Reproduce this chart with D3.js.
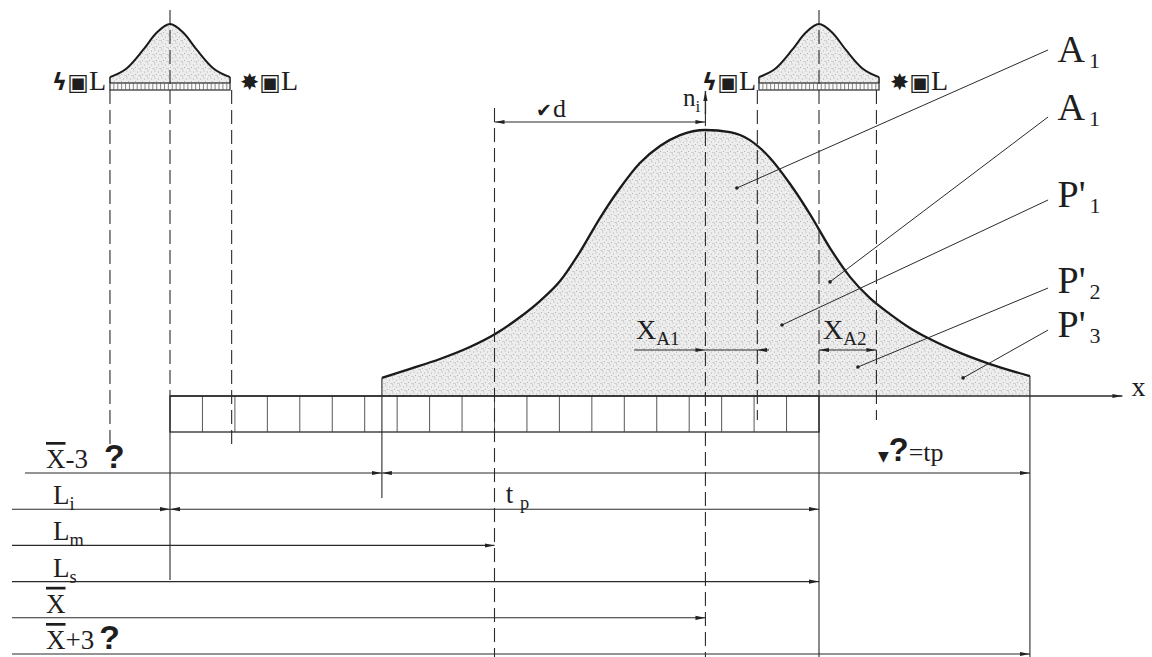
<!DOCTYPE html>
<html>
<head>
<meta charset="utf-8">
<script src="https://cdn.jsdelivr.net/npm/d3@7"></script>
<style>
body { margin: 0; background: #fff; }
svg { display: block; }
</style>
</head>
<body>
<div id="chart"></div>
<script>
// Diagram units along x : one grid cell = 1 unit, Li = 0, Ls = 20

// main frequency curve n_i (relative height, 1 = peak)
var curveX = [6.53, 7.4, 8.32, 9.24, 10.02, 10.79, 11.4, 12.02, 12.63, 13.25, 13.87, 14.48, 15.1, 15.72, 16.5,
              17.26, 17.87, 18.49, 19.11, 19.72, 20.34, 20.96, 21.57, 22.19, 22.8, 23.42, 24.35, 25.27, 26.5];
var curveN = [0.068, 0.102, 0.139, 0.184, 0.233, 0.297, 0.357, 0.432, 0.541, 0.669, 0.782, 0.876, 0.94, 0.981, 1.0,
              0.992, 0.962, 0.895, 0.797, 0.684, 0.556, 0.447, 0.368, 0.308, 0.256, 0.214, 0.162, 0.12, 0.075];

// small gauge curves drawn at Li and Ls
var smallCenters = [0, 20];
var smallDx = [-1.85, -1.33, -0.83, -0.4, 0, 0.4, 0.83, 1.33, 1.85];
var smallN = [0.1, 0.25, 0.56, 0.86, 1, 0.86, 0.56, 0.25, 0.1];

// key abscissae
var xMinus3s = 6.53, xLm = 10, xBar = 16.5, xA1 = 18.1, xLs = 20, xA2 = 21.77, xPlus3s = 26.5, xLi = 0;
var gridCells = 20;

// bottom dimension rows
var rowEnds = [xPlus3s, xLs, xLm, xLs, xBar, xPlus3s];
var rowSplits = [xMinus3s, xLi, null, null, null, null];
var rowLabels = [
  [{t: "X", over: true}, {t: "-3"}, {t: "?", q: true, dx: 16}],
  [{t: "L"}, {t: "i", sub: true}],
  [{t: "L"}, {t: "m", sub: true}],
  [{t: "L"}, {t: "s", sub: true}],
  [{t: "X", over: true}],
  [{t: "X", over: true}, {t: "+3"}, {t: "?", q: true, dx: 5}]
];

// call-outs on the right
var calloutMain = ["A", "A", "P'", "P'", "P'"];
var calloutSub = ["1", "1", "1", "2", "3"];
var calloutDotX = [17.47, 20.34, 18.86, 21.2, 24.44];
var calloutDotN = [0.782, 0.429, 0.267, 0.109, 0.068];
var calloutEndN = [1.301, 1.049, 0.737, 0.406, 0.248];
var calloutTextN = [1.256, 1.038, 0.711, 0.387, 0.222];

var W = 1152, H = 657;
var ink = "#2a2a2a";
var serif = "'Liberation Serif', 'DejaVu Serif', 'Times New Roman', serif";
var sans = "'Liberation Sans', Arial, sans-serif";

var svg = d3.select("#chart").append("svg")
  .attr("width", W)
  .attr("height", H);

var x = d3.scaleLinear().domain([0, gridCells]).range([170, 819]);
var y = d3.scaleLinear().domain([0, 1]).range([396, 130]);
var ys = d3.scaleLinear().domain([0, 1]).range([83, 24]);
var rowY = d3.scalePoint().domain(d3.range(rowEnds.length)).range([473, 654]);

var defs = svg.append("defs");

// stipple fill
var pat = defs.append("pattern")
  .attr("id", "stip")
  .attr("width", 7).attr("height", 7)
  .attr("patternUnits", "userSpaceOnUse");
pat.append("rect").attr("width", 7).attr("height", 7).attr("fill", "#ededed");
[[1, 1], [4.5, 2], [2.5, 4.5], [6, 5.5], [0.5, 6]].forEach(function(p) {
  pat.append("circle").attr("cx", p[0]).attr("cy", p[1]).attr("r", 0.55).attr("fill", "#a8a8a8");
});

defs.append("marker")
  .attr("id", "arr")
  .attr("viewBox", "0 0 10 6")
  .attr("refX", 10).attr("refY", 3)
  .attr("markerWidth", 10).attr("markerHeight", 6)
  .attr("markerUnits", "userSpaceOnUse")
  .attr("orient", "auto-start-reverse")
  .append("path")
  .attr("d", "M0,0.9L10,3L0,5.1z")
  .attr("fill", "#222");

function seg(x1, y1, x2, y2, opts) {
  opts = opts || {};
  var l = svg.append("line")
    .attr("x1", x1).attr("y1", y1).attr("x2", x2).attr("y2", y2)
    .attr("stroke", opts.color || ink)
    .attr("stroke-width", opts.w || 1.1);
  if (opts.dash) l.attr("stroke-dasharray", "14,6");
  if (opts.end) l.attr("marker-end", "url(#arr)");
  if (opts.start) l.attr("marker-start", "url(#arr)");
  return l;
}

function rich(px, py, parts, size) {
  var t = svg.append("text")
    .attr("x", px).attr("y", py)
    .style("font-family", serif)
    .style("font-size", size + "px")
    .attr("fill", "#1e1e1e");
  var down = 0;
  parts.forEach(function(p) {
    var s = t.append("tspan").text(p.t);
    var dy = 0;
    if (p.sub) { dy = size * 0.22 - down; down = size * 0.22; s.style("font-size", (size * 0.68) + "px"); }
    else if (down) { dy = -down; down = 0; }
    if (dy) s.attr("dy", dy);
    if (p.dx) s.attr("dx", p.dx);
    if (p.over) s.style("text-decoration", "overline");
    if (p.q) s.style("font-family", sans).style("font-weight", "bold").style("font-size", (size * 1.25) + "px");
    if (p.sym) s.style("font-family", "'DejaVu Sans', sans-serif").style("font-weight", "bold").style("font-size", p.sym + "px");
  });
  return t;
}

// ---- main curve ----
var pts = curveX.map(function(d, i) { return [d, curveN[i]]; });
var area = d3.area()
  .x(function(d) { return x(d[0]); })
  .y0(y(0))
  .y1(function(d) { return y(d[1]); })
  .curve(d3.curveMonotoneX);
svg.append("path").datum(pts).attr("d", area).attr("fill", "url(#stip)");

var line = d3.line()
  .x(function(d) { return x(d[0]); })
  .y(function(d) { return y(d[1]); })
  .curve(d3.curveMonotoneX);
svg.append("path").datum(pts).attr("d", line)
  .attr("fill", "none").attr("stroke", "#1a1a1a").attr("stroke-width", 2.3);

// ---- small curves at Li and Ls ----
smallCenters.forEach(function(c) {
  var sp = smallDx.map(function(d, i) { return [c + d, smallN[i]]; });
  var a = d3.area()
    .x(function(d) { return x(d[0]); })
    .y0(ys(0))
    .y1(function(d) { return ys(d[1]); })
    .curve(d3.curveMonotoneX);
  svg.append("path").datum(sp).attr("d", a).attr("fill", "url(#stip)");
  svg.append("path").datum(sp)
    .attr("d", d3.line().x(function(d) { return x(d[0]); }).y(function(d) { return ys(d[1]); }).curve(d3.curveMonotoneX))
    .attr("fill", "none").attr("stroke", "#1a1a1a").attr("stroke-width", 2);
  seg(x(c - 1.85), ys(smallN[0]), x(c - 1.85), ys(0), {w: 1.6});
  seg(x(c + 1.85), ys(smallN[0]), x(c + 1.85), ys(0), {w: 1.6});
  // hatched strip
  svg.append("rect")
    .attr("x", x(c - 1.85)).attr("y", ys(0))
    .attr("width", x(c + 1.85) - x(c - 1.85)).attr("height", 7)
    .attr("fill", "#fafafa").attr("stroke", ink).attr("stroke-width", 1.2);
  d3.range(c - 1.85 + 0.12, c + 1.85, 0.12).forEach(function(t) {
    seg(x(t), ys(0), x(t), ys(0) + 7, {w: 0.7, color: "#555"});
  });
});

// ---- grid strip under the axis ----
svg.append("rect")
  .attr("x", x(0)).attr("y", y(0))
  .attr("width", x(gridCells) - x(0)).attr("height", 36)
  .attr("fill", "none").attr("stroke", ink).attr("stroke-width", 1.3);
d3.range(1, gridCells).forEach(function(i) {
  seg(x(i), y(0), x(i), y(0) + 36, {w: 0.9, color: "#444"});
});

// ---- x axis ----
seg(x(0), y(0), x(29.35), y(0), {w: 1.4, end: true});
rich(x(29.35) + 9, y(0), [{t: "x"}], 28);

// ---- vertical reference lines ----
seg(x(-1.85), 90, x(-1.85), 452, {dash: true});
seg(x(0), 10, x(0), y(0), {dash: true});
seg(x(1.9), 90, x(1.9), 446, {dash: true});
seg(x(0), y(0), x(0), 580);
seg(x(xMinus3s), y(curveN[0]), x(xMinus3s), 498);
seg(x(xLm), 108, x(xLm), H, {dash: true});
seg(x(xBar), 112, x(xBar), H, {dash: true});
seg(x(xBar), 114, x(xBar), 91, {end: true, w: 1.4});
seg(x(xA1), 90, x(xA1), 420, {dash: true});
seg(x(xLs), 10, x(xLs), y(0), {dash: true});
seg(x(xLs), y(0), x(xLs), H);
seg(x(xA2), 90, x(xA2), 420, {dash: true});
seg(x(xPlus3s), y(curveN[curveN.length - 1]), x(xPlus3s), H);

// ---- d dimension ----
seg(x(xLm), 122, x(xBar), 122, {start: true, end: true});
rich(536, 117, [{t: "\u2714", sym: 19}, {t: "d", dx: 1}], 26);
rich(683, 106, [{t: "n"}, {t: "i", sub: true}], 25);

// ---- X_A1, X_A2 ----
seg(x(14.3), 350, x(xBar), 350, {end: true});
seg(x(xBar), 350, x(xA1), 350);
seg(x(18.46), 350, x(xA1), 350, {end: true});
rich(636, 339, [{t: "X"}, {t: "A1", sub: true}], 28);
seg(x(xLs), 350, x(xA2), 350, {start: true, end: true});
rich(823, 339, [{t: "X"}, {t: "A2", sub: true}], 28);

// ---- call-outs ----
calloutMain.forEach(function(m, i) {
  seg(x(calloutDotX[i]), y(calloutDotN[i]), x(27.06), y(calloutEndN[i]), {w: 1});
  svg.append("circle").attr("cx", x(calloutDotX[i])).attr("cy", y(calloutDotN[i]))
    .attr("r", 1.8).attr("fill", "#222");
  var t = rich(x(27.35), y(calloutTextN[i]), [{t: m}], 38);
  t.append("tspan").attr("dx", 4).attr("dy", 6).style("font-size", "22px").text(calloutSub[i]);
});

// ---- gauge labels (garbled in the source scan) ----
[[52, 90], [240, 90], [702, 90], [890, 90]].forEach(function(p, i) {
  rich(p[0], p[1], [{t: i % 2 === 0 ? "\u03df\u25a3" : "\u2738\u25a3", sym: 23}, {t: "L"}], 28);
});

// ---- bottom dimension rows ----
rowEnds.forEach(function(e, i) {
  var yy = rowY(i);
  var x0 = i === 0 ? x(-4.47) : x(-4.87);
  if (rowSplits[i] !== null) {
    seg(x0, yy, x(rowSplits[i]), yy, {end: true});
    seg(x(rowSplits[i]), yy, x(e), yy, {start: true, end: true});
  } else {
    seg(x0, yy, x(e), yy, {end: true});
  }
  rich(i === 1 || i === 2 || i === 3 ? 53 : 46, yy - 5, rowLabels[i], 27);
});

rich(x(10.35), rowY(1) - 6, [{t: "t "}, {t: "p", sub: true}], 27);
rich(878, 461, [{t: "\u25bc", sym: 14}, {t: "?", q: true}, {t: "=tp"}], 26);
</script>
</body>
</html>
